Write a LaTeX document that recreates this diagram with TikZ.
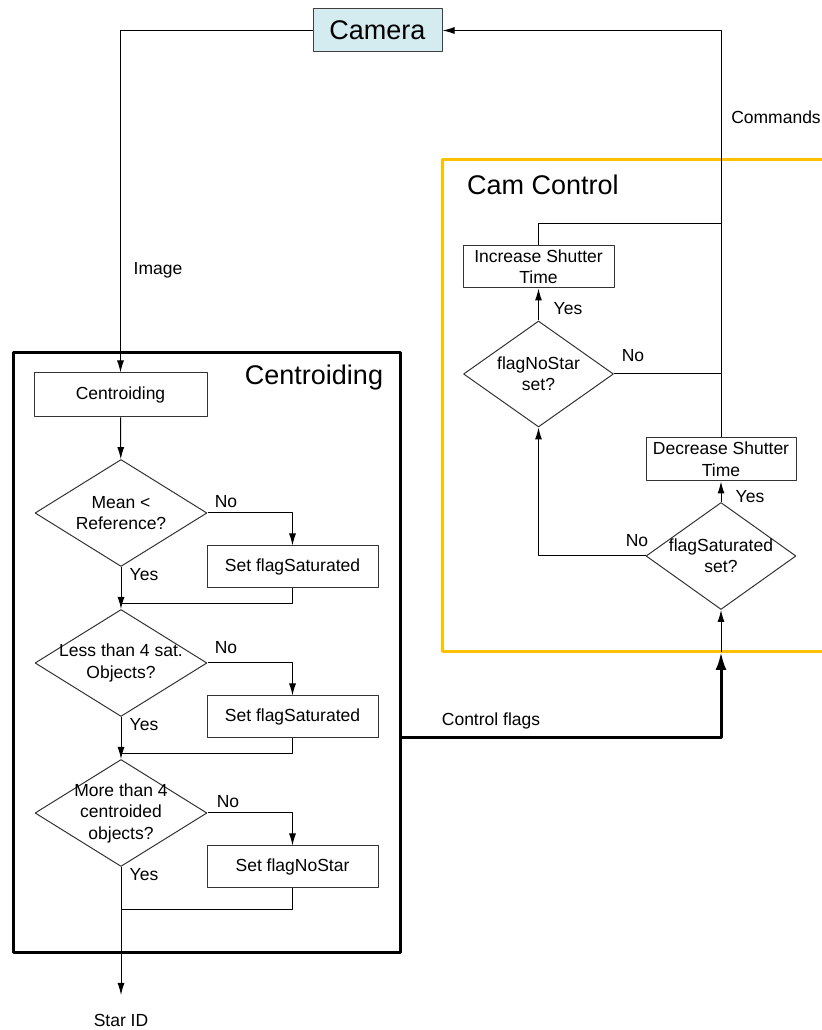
\documentclass[tikz,border=0pt]{standalone}
\usepackage{fontspec}
\setmainfont{Liberation Sans}
\usetikzlibrary{shapes.geometric,arrows.meta}
\definecolor{camfill}{HTML}{D4EBF0}
\definecolor{ctrlyellow}{HTML}{FFC000}
\begin{document}
\begin{tikzpicture}[>={Latex[length=12bp,width=7bp]},line join=bevel,line width=1bp,
  every node/.style={font=\fontsize{17.5bp}{21.5bp}\selectfont,align=center},
  procbox/.style={draw=black!80,rectangle,inner sep=0pt,minimum width=171bp,minimum height=42bp},
  decision/.style={draw=black!80,diamond,inner sep=0pt,minimum width=172bp,minimum height=107bp},
  bigtext/.style={font=\fontsize{27bp}{32bp}\selectfont},
]
\useasboundingbox (0bp,0bp) rectangle (822bp,1030bp);
%%
\node (node_frame) at (206.5bp,377bp) [draw,line width=3bp,minimum width=387bp,minimum height=600bp,inner sep=0pt] {};
  \draw [ctrlyellow,line width=3bp] (822bp,870bp) -- (442bp,870bp) -- (442bp,378bp) -- (822bp,378bp);
  \node (node_cam) at (377.5bp,999.5bp) [draw=black!75,fill=camfill,minimum width=129bp,minimum height=43bp,inner sep=0pt,bigtext] {Camera};
%
\node (node_centroid) at (120.5bp,635bp) [procbox,minimum width=173bp,minimum height=44bp] {Centroiding};
  \node (node_mean) at (121bp,517bp) [decision] {};
  \node (node_mean_t) at (121bp,517bp) {Mean <\\Reference?};
  \node (node_sat1) at (292.5bp,463bp) [procbox] {Set flagSaturated};
  \node (node_less) at (121bp,367bp) [decision] {};
  \node (node_less_t) at (121bp,367bp) {Less than 4 sat.\\Objects?};
  \node (node_sat2) at (292.5bp,313bp) [procbox] {Set flagSaturated};
  \node (node_more) at (121bp,217bp) [decision] {};
  \node (node_more_t) at (121bp,217bp) {More than 4\\centroided\\objects?};
  \node (node_nostar) at (292.5bp,163bp) [procbox] {Set flagNoStar};
  \node (node_starid) at (121bp,10bp) {Star ID};
  \coordinate (join_1) at (121bp,426bp);
  \coordinate (join_2) at (121bp,276bp);
  \coordinate (join_3) at (121bp,120bp);
  \coordinate (end_star) at (121bp,35bp);
%
\node (lbl_centroiding) at (314bp,652bp) [bigtext] {Centroiding};
  \node (lbl_image) at (158bp,760bp) {Image};
  \node (lbl_no1) at (226bp,528bp) {No};
  \node (lbl_yes1) at (144bp,455bp) {Yes};
  \node (lbl_no2) at (226bp,382bp) {No};
  \node (lbl_yes2) at (144bp,305bp) {Yes};
  \node (lbl_no3) at (228bp,228bp) {No};
  \node (lbl_yes3) at (144bp,155bp) {Yes};
%
\draw [->] (node_cam.west) -| (node_centroid.north);
  \draw [->] (node_centroid) -- (node_mean);
  \draw [->] (node_mean.east) -| (node_sat1.north);
  \draw [->] (node_mean.south) -- (node_less.north);
  \draw (node_sat1.south) |- (join_1);
  \draw [->] (node_less.east) -| (node_sat2.north);
  \draw [->] (node_less.south) -- (node_more.north);
  \draw (node_sat2.south) |- (join_2);
  \draw [->] (node_more.east) -| (node_nostar.north);
  \draw [->] (node_more.south) -- (end_star);
  \draw (node_nostar.south) |- (join_3);
%%
\node (lbl_camctrl) at (543bp,845bp) [bigtext] {Cam Control};
  \node (lbl_cmds) at (776bp,913bp) {Commands};
  \node (node_inc) at (538.5bp,763bp) [procbox,minimum width=151bp] {Increase Shutter\\Time};
  \node (node_flagnostar) at (538.5bp,656bp) [decision,minimum width=150bp,minimum height=106bp] {};
  \node (node_flagnostar_t) at (538.5bp,656bp) {flagNoStar\\set?};
  \node (node_dec) at (721bp,570.5bp) [procbox,minimum width=150bp,minimum height=43bp] {Decrease Shutter\\Time};
  \node (node_flagsat) at (721bp,474bp) [decision,minimum width=150bp] {};
  \node (node_flagsat_t) at (721bp,474bp) {flagSaturated\\set?};
  \coordinate (join_inc) at (721bp,806bp);
  \coordinate (join_nostar) at (721bp,656bp);
  \coordinate (join_flags) at (721bp,378bp);
  \coordinate (out_flags) at (400bp,292bp);
%
\node (lbl_yes4) at (568bp,721bp) {Yes};
  \node (lbl_no4) at (633bp,674bp) {No};
  \node (lbl_yes5) at (750bp,533bp) {Yes};
  \node (lbl_no5) at (637bp,489bp) {No};
  \node (lbl_flags) at (491bp,309bp) {Control flags};
%
\draw [->] (node_dec.north) |- (node_cam.east);
  \draw (node_inc.north) |- (join_inc);
  \draw (node_flagnostar.east) -- (join_nostar);
  \draw [->] (node_flagnostar.north) -- (node_inc.south);
  \draw [->] (node_flagsat.north) -- (node_dec.south);
  \draw [->] (node_flagsat.west) -| (node_flagnostar.south);
  \draw [line width=3bp,-{Latex[length=18bp,width=11bp]}] (out_flags) -| (join_flags);
  \draw [->] (join_flags) -- (node_flagsat.south);
%
\end{tikzpicture}
\end{document}
